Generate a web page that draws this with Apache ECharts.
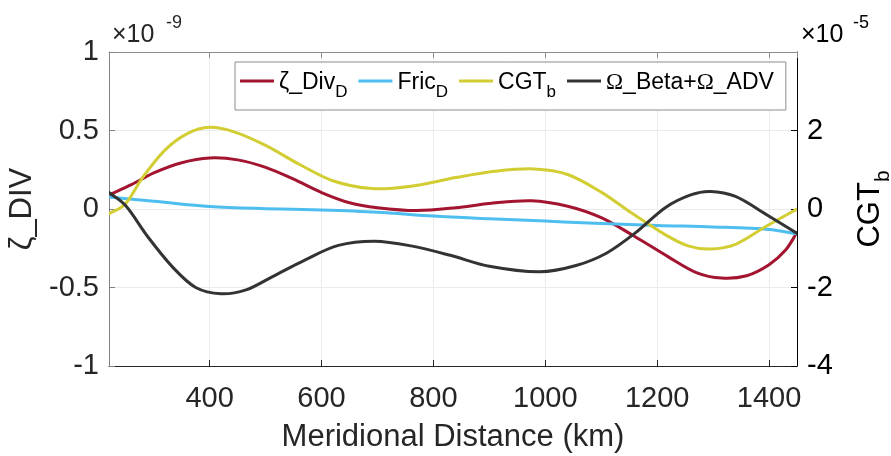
<!DOCTYPE html>
<html>
<head>
<meta charset="utf-8">
<script src="https://cdn.jsdelivr.net/npm/echarts@6/dist/echarts.min.js"></script>
<style>
  html, body { margin: 0; padding: 0; background: #fff; }
  #chart { width: 891px; height: 456px; }
</style>
</head>
<body>
<div id="chart"></div>
<script>
// ζ_Div (D): meridional distance (km) and value (units of 1e-9)
const zetaDivKm = [220, 260, 300, 350, 400, 450, 500, 550, 600, 650, 700, 770, 840, 900, 975,
  1040, 1100, 1160, 1220, 1270, 1315, 1360, 1400, 1430, 1450];
const zetaDivD = [0.09, 0.155, 0.23, 0.295, 0.325, 0.313, 0.265, 0.19, 0.105, 0.04, 0.008,
  -0.01, 0.008, 0.035, 0.053, 0.018, -0.055, -0.175, -0.305, -0.405, -0.44, -0.425, -0.355,
  -0.26, -0.15];

// Fric (D): distance (km) and value (units of 1e-9)
const fricKm = [220, 300, 400, 500, 600, 700, 800, 900, 1000, 1100, 1200, 1300, 1400, 1450];
const fricD = [0.076, 0.05, 0.016, 0.002, -0.006, -0.02, -0.045, -0.062, -0.077, -0.092,
  -0.105, -0.114, -0.13, -0.158];

// CGT (b): distance (km) and value (units of 1e-5, right axis)
const cgtKm = [220, 250, 280, 320, 360, 400, 445, 500, 560, 620, 690, 760, 840, 910, 980,
  1040, 1100, 1155, 1215, 1255, 1295, 1340, 1395, 1450];
const cgtB = [-0.12, 0.14, 0.8, 1.5, 1.92, 2.08, 1.96, 1.62, 1.14, 0.72, 0.52, 0.58, 0.8,
  0.96, 1.02, 0.88, 0.43, -0.11, -0.66, -0.94, -1.02, -0.9, -0.44, 0.0];

// Ω_Beta + Ω_ADV: distance (km) and value (units of 1e-9)
const omegaKm = [220, 250, 290, 335, 375, 420, 465, 510, 570, 630, 695, 760, 830, 900, 990,
  1055, 1110, 1160, 1215, 1260, 1295, 1340, 1395, 1450];
const omegaBetaAdv = [0.105, 0.02, -0.18, -0.375, -0.5, -0.54, -0.515, -0.435, -0.325,
  -0.232, -0.205, -0.235, -0.295, -0.365, -0.4, -0.36, -0.28, -0.155, 0.01, 0.09, 0.112,
  0.08, -0.035, -0.155];

// Axis ranges and tick steps
const leftTicks = { min: -1, max: 1, step: 0.5 };
const rightTicks = { min: -4, max: 4, step: 2 };
const xRange = { min: 220, max: 1450 };

const FONT = "'Liberation Sans', Arial, Helvetica, sans-serif";
const SERIF = "'Liberation Serif', 'DejaVu Serif', serif";
const pairs = (xs, ys) => xs.map((x, i) => [x, ys[i]]);
const plain = (v) => String(v);

// Cubic Hermite path through pixel points (tangents from neighbouring slopes)
function curvePath(pts) {
  const n = pts.length;
  const slope = (a, b) => (pts[b][1] - pts[a][1]) / (pts[b][0] - pts[a][0]);
  const m = pts.map((_, i) => i === 0 ? slope(0, 1) : i === n - 1 ? slope(n - 2, n - 1) : slope(i - 1, i + 1));
  let d = `M${pts[0][0]},${pts[0][1]}`;
  for (let i = 0; i < n - 1; i++) {
    const h = (pts[i + 1][0] - pts[i][0]) / 3;
    d += ` C${pts[i][0] + h},${pts[i][1] + m[i] * h} ${pts[i + 1][0] - h},${pts[i + 1][1] - m[i + 1] * h} ${pts[i + 1][0]},${pts[i + 1][1]}`;
  }
  return d;
}

const curveSeries = (name, xs, ys, color, yAxisIndex) => ({
  name, type: 'custom', yAxisIndex, data: pairs(xs, ys),
  encode: { x: 0, y: 1 }, clip: true, z: 3,
  itemStyle: { color },
  renderItem: (params, api) => {
    if (params.dataIndex !== 0) return null;
    const pts = xs.map((x, i) => api.coord([x, ys[i]]));
    return {
      type: 'path',
      shape: { pathData: curvePath(pts) },
      style: { fill: 'none', stroke: color, lineWidth: 3, lineJoin: 'round', lineCap: 'round' }
    };
  }
});

const legendLabels = {
  'ζ_Div': '{m|ζ_Div}{s|D}',
  'Fric': '{m|Fric}{s|D}',
  'CGT': '{m|CGT}{s|b}',
  'Ω_Beta+Ω_ADV': '{g|Ω}{m|_Beta+}{g|Ω}{m|_ADV}'
};

const chart = echarts.init(document.getElementById('chart'), null, { renderer: 'canvas' });

chart.setOption({
  animation: false,
  backgroundColor: '#ffffff',
  grid: { left: 109, right: 94, top: 52, bottom: 90, containLabel: false, outerBoundsMode: 'none' },
  legend: {
    left: 235, top: 62,
    itemWidth: 34, itemHeight: 3, itemGap: 11,
    icon: 'rect',
    padding: [9, 12, 9, 5],
    borderColor: '#8c8c8c', borderWidth: 1,
    backgroundColor: '#ffffff',
    formatter: (name) => legendLabels[name],
    textStyle: {
      fontFamily: FONT, color: '#000',
      rich: {
        m: { fontSize: 23, fontFamily: FONT, color: '#000', lineHeight: 26, verticalAlign: 'bottom' },
        g: { fontSize: 23, fontFamily: SERIF, color: '#000', lineHeight: 26, verticalAlign: 'bottom' },
        s: { fontSize: 17, fontFamily: FONT, color: '#000', lineHeight: 14, verticalAlign: 'bottom', padding: [0, 0, -7, 0] }
      }
    },
    data: ['ζ_Div', 'Fric', 'CGT', 'Ω_Beta+Ω_ADV']
  },
  xAxis: [{
    type: 'value', position: 'bottom', min: xRange.min, max: xRange.max, splitNumber: 6,
    axisLine: { show: true, onZero: false, lineStyle: { color: '#262626', width: 1 } },
    axisTick: { show: true, inside: true, length: 6, lineStyle: { color: '#262626' } },
    axisLabel: { showMinLabel: false, showMaxLabel: false, formatter: plain, fontSize: 29, fontFamily: FONT, color: '#262626', margin: 18 },
    splitLine: { show: true, lineStyle: { color: '#ebebeb', width: 1 } },
    name: 'Meridional Distance (km)', nameLocation: 'middle', nameGap: 56,
    nameTextStyle: { fontSize: 31, fontFamily: FONT, color: '#262626' }
  }, {
    type: 'value', position: 'top', min: xRange.min, max: xRange.max, splitNumber: 6,
    axisLine: { show: true, onZero: false, lineStyle: { color: '#8c8c8c', width: 1 } },
    axisTick: { show: true, inside: true, length: 6, lineStyle: { color: '#8c8c8c' } },
    axisLabel: { show: false }, splitLine: { show: false }
  }],
  yAxis: [{
    type: 'value', position: 'left', min: leftTicks.min, max: leftTicks.max, interval: leftTicks.step,
    axisLine: { show: true, onZero: false, lineStyle: { color: '#808080', width: 1 } },
    axisTick: { show: true, inside: true, length: 6, lineStyle: { color: '#808080' } },
    axisLabel: { formatter: plain, fontSize: 29, fontFamily: FONT, color: '#262626', margin: 10 },
    splitLine: { show: true, lineStyle: { color: '#ebebeb', width: 1 } },
    name: 'ζ_DIV', nameLocation: 'middle', nameGap: 65, nameRotate: 90,
    nameTextStyle: { fontSize: 31, fontFamily: FONT, color: '#262626' }
  }, {
    type: 'value', position: 'right', min: rightTicks.min, max: rightTicks.max, interval: rightTicks.step,
    axisLine: { show: true, onZero: false, lineStyle: { color: '#000000', width: 1 } },
    axisTick: { show: true, inside: true, length: 6, lineStyle: { color: '#000000' } },
    axisLabel: { showMaxLabel: false, formatter: plain, fontSize: 29, fontFamily: FONT, color: '#000000', margin: 10 },
    splitLine: { show: false },
    name: '{m|CGT}{s|b}', nameLocation: 'middle', nameGap: 55, nameRotate: 90,
    nameTextStyle: {
      fontFamily: FONT, color: '#000',
      rich: {
        m: { fontSize: 31, fontFamily: FONT, color: '#000', lineHeight: 34, verticalAlign: 'bottom' },
        s: { fontSize: 21, fontFamily: FONT, color: '#000', lineHeight: 18, verticalAlign: 'bottom', padding: [0, 0, -8, 0] }
      }
    }
  }],
  graphic: [
    { type: 'text', left: 112, top: 23, style: { text: '×10', font: `25px ${FONT}`, fill: '#262626' } },
    { type: 'text', left: 166, top: 14, style: { text: '-9', font: `18px ${FONT}`, fill: '#262626' } },
    { type: 'text', left: 801, top: 23, style: { text: '×10', font: `25px ${FONT}`, fill: '#000' } },
    { type: 'text', left: 853, top: 14, style: { text: '-5', font: `18px ${FONT}`, fill: '#000' } }
  ],
  series: [
    curveSeries('ζ_Div', zetaDivKm, zetaDivD, '#A2142F', 0),
    curveSeries('Fric', fricKm, fricD, '#4DBEEE', 0),
    curveSeries('CGT', cgtKm, cgtB, '#D2CD32', 1),
    curveSeries('Ω_Beta+Ω_ADV', omegaKm, omegaBetaAdv, '#333333', 0)
  ]
});
</script>
</body>
</html>
